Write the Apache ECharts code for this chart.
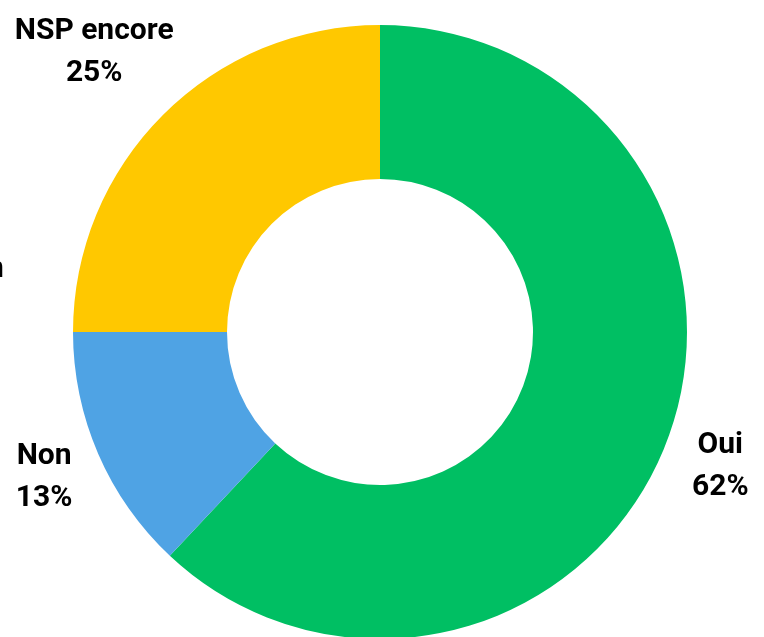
<!DOCTYPE html>
<html>
<head>
<meta charset="utf-8">
<script src="https://cdn.jsdelivr.net/npm/echarts@6/dist/echarts.min.js"></script>
<style>
    html, body { margin: 0; padding: 0; background: #fff; }
    #container { width: 764px; height: 637px; }
</style>
</head>
<body>
<div id="container"></div>
<script>
    // données du sondage
    var categories = ['Oui', 'Non', 'NSP encore'];
    var values = [62, 13, 25];
    var colors = ['#00BF63', '#4FA3E4', '#FFC800'];

    var center = [380, 332];
    var labelFont = { fontFamily: 'Roboto', fontWeight: 'bold', fontSize: 30, lineHeight: 42, color: '#000' };

    var slices = [], labels = [];
    for (var i = 0; i < categories.length; i++) {
        slices.push({ name: categories[i], value: values[i], itemStyle: { color: colors[i] } });
        var lab = { name: categories[i], value: values[i] };
        // NSP encore est poussé un peu plus loin (ligne vide en bas + marge à droite)
        if (categories[i] == 'NSP encore') {
            lab.label = { formatter: '{b}\n{c}%\n ', padding: [0, 54, 0, 0] };
        }
        labels.push(lab);
    }

    var option = {
        animation: false,
        backgroundColor: '#fff',
        graphic: [{
            type: 'text',
            x: -13,
            y: 269,
            style: { text: 'n', fontFamily: 'Roboto', fontWeight: 'bold', fontSize: 30, fill: '#000', verticalAlign: 'middle' }
        }],
        series: [
            {
                type: 'pie',
                center: center,
                radius: [153, 307],
                startAngle: 90,
                clockwise: true,
                silent: true,
                label: { show: false },
                labelLine: { show: false },
                data: slices
            },
            {
                // série invisible qui porte les étiquettes
                type: 'pie',
                center: center,
                radius: [0, 726],
                startAngle: 90,
                clockwise: true,
                silent: true,
                itemStyle: { color: 'rgba(0,0,0,0)' },
                label: Object.assign({
                    show: true,
                    position: 'inside',
                    formatter: '{b}\n{c}%'
                }, labelFont),
                labelLine: { show: false },
                data: labels
            }
        ]
    };
    echarts.init(document.getElementById('container')).setOption(option);
</script>
</body>
</html>
